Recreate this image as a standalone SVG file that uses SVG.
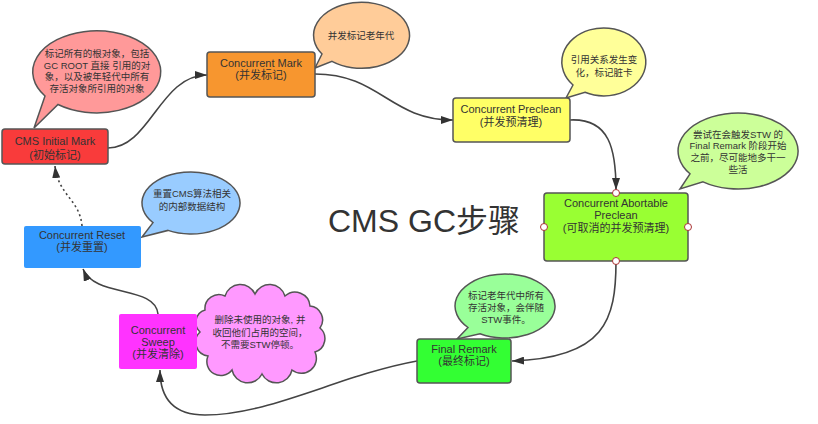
<svg xmlns="http://www.w3.org/2000/svg" width="818" height="424" viewBox="0 0 818 424">
<style>
text{font-family:"Liberation Sans","Noto Sans CJK SC",sans-serif;fill:#333;text-anchor:middle}
.bt{font-size:11px}
.ct{font-size:9.5px}
.box{stroke:#555;stroke-width:1.5}
.bub{stroke:#555;stroke-width:1.5}
.con{fill:none;stroke:#444;stroke-width:1.6}
.hd{fill:#fff;stroke:#a33;stroke-width:1}
</style>
<defs>
<marker id="ah" viewBox="0 0 12 8" refX="12" refY="4" markerWidth="12" markerHeight="8" orient="auto" markerUnits="userSpaceOnUse">
<path d="M0,0 L12,4 L0,8 Z" fill="#333"/>
</marker>
</defs>
<rect width="818" height="424" fill="#fff"/>
<g id="connectors">
<path class="con" d="M108,148 C150,148 160,75 207,75" marker-end="url(#ah)"/>
<path class="con" d="M315,74 C380,74 390,120 453,120" marker-end="url(#ah)"/>
<path class="con" d="M570,120 C610,118 616,150 616,190" marker-end="url(#ah)"/>
<path class="con" d="M616,261 C616,320 605,358 512,361" marker-end="url(#ah)"/>
<path class="con" d="M417,361 C340,375 270,415 205,415 C170,415 160,395 160,370" marker-end="url(#ah)"/>
<path class="con" d="M158,314 C155,285 95,298 83,269" marker-end="url(#ah)"/>
<path class="con" d="M82,226 C80,200 58,195 55,166" stroke-dasharray="2,3" marker-end="url(#ah)"/>
</g>
<g id="title"><text x="424" y="232" style="font-size:32px">CMS GC步骤</text></g>
<g id="initial-mark">
<path class="bub" fill="#ff9999" d="M45,96 L34,128 L58,104.5 A64,41 0 1 0 45,96 Z"/>
<text class="ct" x="97" y="57">标记所有的根对象，包括</text>
<text class="ct" x="97" y="69">GC ROOT 直接 引用的对</text>
<text class="ct" x="97" y="80">象，以及被年轻代中所有</text>
<text class="ct" x="97" y="92">存活对象所引用的对象</text>
<rect class="box" x="2" y="129" width="106" height="35" rx="3" fill="#f93b3b"/>
<text class="bt" x="55" y="145">CMS Initial Mark</text>
<text class="bt" x="55" y="159">(初始标记)</text>
</g>
<g id="concurrent-mark">
<path class="bub" fill="#ffcc99" d="M322,54 L315,68 L332,61.3 A48,33 0 1 0 322,54 Z"/>
<text class="ct" x="361" y="38.5">并发标记老年代</text>
<rect class="box" x="207" y="52" width="108" height="45" rx="3" fill="#f7962f"/>
<text class="bt" x="261" y="67">Concurrent Mark</text>
<text class="bt" x="261" y="79">(并发标记)</text>
</g>
<g id="concurrent-preclean">
<path class="bub" fill="#ffff99" d="M573,85 L566,98 L585,92.3 A42,34 0 1 0 573,85 Z"/>
<text class="ct" x="604" y="62.5">引用关系发生变</text>
<text class="ct" x="604" y="75.5">化，标记脏卡</text>
<rect class="box" x="453" y="98" width="117" height="44" rx="3" fill="#ffff66"/>
<text class="bt" x="511" y="113">Concurrent Preclean</text>
<text class="bt" x="511" y="126">(并发预清理)</text>
</g>
<g id="abortable-preclean">
<path class="bub" fill="#ccff99" d="M690,173.8 L680,189 L703,181.9 A60,38 0 1 0 690,173.8 Z"/>
<text class="ct" x="738" y="137.5">尝试在会触发STW 的</text>
<text class="ct" x="738" y="148.5">Final Remark 阶段开始</text>
<text class="ct" x="738" y="160.5">之前，尽可能地多干一</text>
<text class="ct" x="738" y="172.5">些活</text>
<rect class="box" x="544" y="193" width="144" height="68" rx="3" fill="#99ff33"/>
<text class="bt" x="616" y="207">Concurrent Abortable</text>
<text class="bt" x="616" y="219">Preclean</text>
<text class="bt" x="616" y="232">(可取消的并发预清理)</text>
<circle class="hd" cx="616" cy="193" r="3.5"/>
<circle class="hd" cx="544" cy="227" r="3.5"/>
<circle class="hd" cx="688" cy="227" r="3.5"/>
<circle class="hd" cx="616" cy="261" r="3.5"/>
</g>
<g id="final-remark">
<path class="bub" fill="#99ff99" d="M468,327.5 L457,339 L480,333.7 A50,32 0 1 0 468,327.5 Z"/>
<text class="ct" x="506" y="298.5">标记老年代中所有</text>
<text class="ct" x="506" y="310.5">存活对象，会伴随</text>
<text class="ct" x="506" y="322.5">STW事件。</text>
<rect class="box" x="417" y="339" width="94" height="44" rx="3" fill="#33ff33"/>
<text class="bt" x="464" y="353">Final Remark</text>
<text class="bt" x="464" y="365">(最终标记)</text>
</g>
<g id="concurrent-sweep">
<path class="bub" fill="#ff99ff" d="M205,310 A14,14 0 0 1 225,296 A16,16 0 0 1 255,294 A16,16 0 0 1 285,296 A15,15 0 0 1 310,306 A14,14 0 0 1 320,328 A14,14 0 0 1 315,352 A15,15 0 0 1 292,370 A16,16 0 0 1 262,374 A16,16 0 0 1 232,370 A14,14 0 0 1 208,356 A14,14 0 0 1 200,332 A13,13 0 0 1 205,310 Z"/>
<text class="ct" x="260" y="322.5">删除未使用的对象, 并</text>
<text class="ct" x="260" y="335.5">收回他们占用的空间，</text>
<text class="ct" x="260" y="347.5">不需要STW停顿。</text>
<rect x="119" y="314" width="78" height="55" rx="2" fill="#ff33ff"/>
<text class="bt" x="158" y="334">Concurrent</text>
<text class="bt" x="158" y="346">Sweep</text>
<text class="bt" x="158" y="358">(并发清除)</text>
</g>
<g id="concurrent-reset">
<path class="bub" fill="#99ccff" d="M153,222.6 L142,237 L168,230.4 A49,31 0 1 0 153,222.6 Z"/>
<text class="ct" x="192" y="196.5">重置CMS算法相关</text>
<text class="ct" x="192" y="209.5">的内部数据结构</text>
<rect x="24" y="226" width="117" height="42" rx="2" fill="#3399ff"/>
<text class="bt" x="82" y="239">Concurrent Reset</text>
<text class="bt" x="82" y="251">(并发重置)</text>
</g>
</svg>
